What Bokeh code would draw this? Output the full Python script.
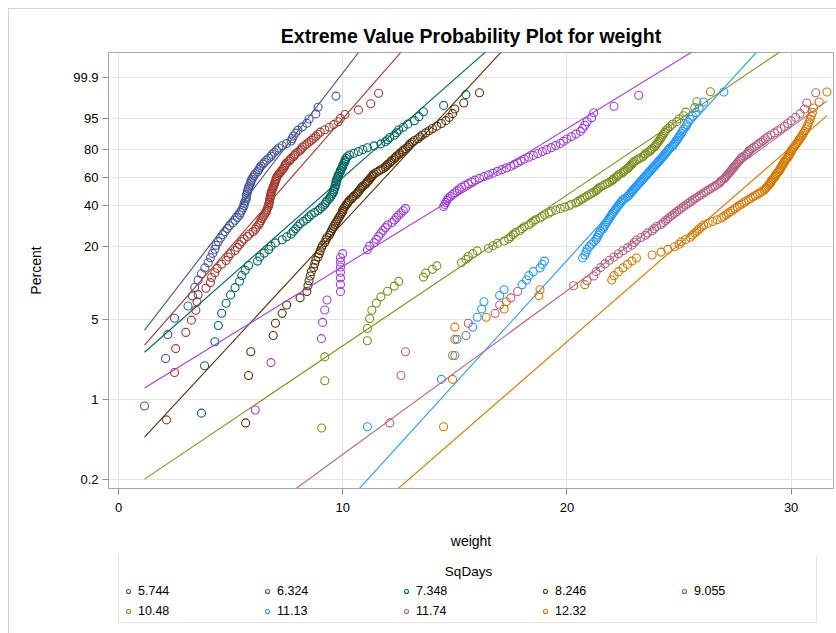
import numpy as np
from bokeh.plotting import figure
from bokeh.layouts import column
from bokeh.models import FixedTicker, Legend, LegendItem, Range1d, Label
from bokeh.embed import file_html
from bokeh.resources import INLINE

# ---------------- data ----------------
groups = ["5.744", "6.324", "7.348", "8.246", "9.055", "10.48", "11.13", "11.74", "12.32"]
colors = ["#445694", "#A23A2E", "#01665E", "#543005", "#9D3CDB",
          "#7F8E1F", "#2597FA", "#B26084", "#D17800"]

w_5744 = [1.16, 2.1, 2.2, 2.5, 3.1, 3.3, 3.4, 3.55, 3.7, 3.85, 4.0, 4.1, 4.2, 4.3, 4.35,
          4.45, 4.55, 4.65, 4.75, 4.85, 4.95, 5.1, 5.2, 5.3, 5.4, 5.45, 5.5, 5.55, 5.6, 5.6,
          5.65, 5.7, 5.7, 5.7, 5.75, 5.75, 5.8, 5.8, 5.85, 5.9, 5.9, 5.95, 6.0, 6.05, 6.1,
          6.2, 6.25, 6.3, 6.35, 6.45, 6.5, 6.6, 6.7, 6.8, 6.85, 6.95, 7.05, 7.15, 7.3, 7.5,
          7.7, 7.75, 7.8, 7.9, 8.0, 8.2, 8.4, 8.5, 8.8, 8.9, 9.7]
w_6324 = [2.14, 2.5, 2.55, 3.0, 3.25, 3.45, 3.5, 3.55, 3.9, 4.1, 4.15, 4.3, 4.4, 4.6, 4.8,
          4.9, 5.0, 5.2, 5.3, 5.4, 5.5, 5.6, 5.75, 5.85, 6.0, 6.1, 6.15, 6.25, 6.3, 6.35,
          6.4, 6.45, 6.5, 6.55, 6.6, 6.62, 6.65, 6.7, 6.7, 6.72, 6.74, 6.75, 6.76, 6.78, 6.8,
          6.8, 6.82, 6.85, 6.88, 6.9, 6.92, 6.95, 6.97, 7.0, 7.02, 7.04, 7.06, 7.1, 7.15, 7.2,
          7.25, 7.3, 7.35, 7.4, 7.42, 7.45, 7.5, 7.6, 7.65, 7.7, 7.8, 7.85, 7.9, 8.0, 8.1,
          8.15, 8.2, 8.3, 8.4, 8.5, 8.6, 8.7, 8.8, 8.9, 9.0, 9.2, 9.4, 9.6, 9.8, 9.9,
          10.1, 10.7, 11.25, 11.6]
w_7348 = [3.7, 3.84, 4.3, 4.45, 4.6, 4.8, 5.0, 5.2, 5.4, 5.5, 5.65, 5.8, 6.2, 6.3, 6.5,
          6.7, 6.8, 7.0, 7.3, 7.5, 7.7, 7.8, 7.9, 8.0, 8.1, 8.25, 8.4, 8.5, 8.6, 8.75,
          8.9, 9.0, 9.1, 9.2, 9.25, 9.3, 9.4, 9.45, 9.5, 9.55, 9.6, 9.6, 9.65, 9.65, 9.7,
          9.7, 9.7, 9.75, 9.75, 9.8, 9.8, 9.85, 9.9, 9.9, 9.95, 10.0, 10.0, 10.05, 10.1, 10.1,
          10.15, 10.2, 10.3, 10.5, 10.7, 10.9, 11.1, 11.4, 11.7, 11.9, 12.0, 12.1, 12.3, 12.4,
          12.5, 12.7, 12.9, 13.2, 13.4, 13.6, 14.5, 15.5]
w_8246 = [5.67, 5.8, 5.9, 6.9, 7.0, 7.3, 7.5, 8.1, 8.4, 8.45, 8.5, 8.55, 8.6, 8.7, 8.75,
          8.8, 8.9, 8.95, 9.0, 9.05, 9.1, 9.2, 9.25, 9.3, 9.4, 9.45, 9.5, 9.55, 9.6, 9.65,
          9.7, 9.75, 9.8, 9.85, 9.9, 9.95, 10.0, 10.0, 10.05, 10.1, 10.15, 10.2, 10.25, 10.3,
          10.4, 10.45, 10.5, 10.6, 10.65, 10.7, 10.75, 10.8, 10.85, 10.9, 11.0, 11.05, 11.1,
          11.15, 11.2, 11.25, 11.3, 11.35, 11.4, 11.5, 11.6, 11.7, 11.8, 11.9, 11.95, 12.0,
          12.1, 12.15, 12.2, 12.3, 12.35, 12.4, 12.5, 12.55, 12.65, 12.7, 12.8, 12.9, 12.95,
          13.0, 13.1, 13.2, 13.35, 13.45, 13.55, 13.7, 13.85, 14.0, 14.2, 14.4, 14.6, 14.75,
          14.9, 15.0, 15.4, 16.1]
w_9055 = [6.1, 6.8, 9.05, 9.1, 9.2, 9.3, 9.9, 9.9, 9.9, 9.9, 9.9, 9.9, 9.9, 10.0, 11.1,
          11.2, 11.4, 11.5, 11.6, 11.7, 11.8, 11.9, 12.0, 12.2, 12.3, 12.4, 12.5, 12.6, 12.7,
          12.8, 14.5, 14.55, 14.6, 14.65, 14.7, 14.8, 14.9, 15.0, 15.1, 15.2, 15.3, 15.45,
          15.6, 15.75, 15.9, 16.1, 16.3, 16.5, 16.7, 16.9, 17.1, 17.3, 17.5, 17.65, 17.8,
          17.95, 18.1, 18.3, 18.5, 18.7, 18.9, 19.1, 19.3, 19.5, 19.7, 19.85, 20.0, 20.2,
          20.4, 20.6, 20.7, 20.8, 20.9, 21.1, 21.2, 22.1, 23.2]
w_1048 = [9.06, 9.2, 9.2, 11.1, 11.1, 11.2, 11.3, 11.5, 11.7, 12.0, 12.3, 12.5, 13.6, 13.7,
          14.0, 14.2, 15.3, 15.5, 15.6, 15.8, 16.0, 16.5, 16.7, 16.9, 17.2, 17.4, 17.5, 17.6,
          17.7, 17.9, 18.0, 18.1, 18.3, 18.4, 18.5, 18.6, 18.8, 18.9, 19.0, 19.2, 19.3, 19.5,
          19.7, 19.9, 20.1, 20.2, 20.4, 20.5, 20.6, 20.7, 20.8, 20.9, 21.0, 21.1, 21.2, 21.3,
          21.35, 21.4, 21.5, 21.6, 21.7, 21.8, 21.9, 22.0, 22.05, 22.1, 22.2, 22.25, 22.3,
          22.4, 22.5, 22.55, 22.6, 22.7, 22.75, 22.8, 22.85, 22.9, 22.95, 23.0, 23.1, 23.2,
          23.3, 23.4, 23.45, 23.5, 23.6, 23.7, 23.75, 23.8, 23.9, 23.95, 24.0, 24.05, 24.1,
          24.15, 24.2, 24.25, 24.3, 24.35, 24.4, 24.5, 24.6, 24.7, 24.9, 25.0, 25.2, 25.3,
          25.7, 25.8, 26.4]
w_1113 = [11.1, 14.4, 15.0, 15.1, 15.8, 16.0, 16.2, 16.3, 17.0, 17.2, 18.0, 18.2, 18.3,
          18.5, 18.8, 18.9, 19.0, 20.7, 20.8, 20.85, 20.9, 21.0, 21.1, 21.2, 21.3, 21.35,
          21.4, 21.45, 21.5, 21.6, 21.65, 21.7, 21.75, 21.8, 21.85, 21.9, 21.95, 22.0, 22.05,
          22.1, 22.15, 22.2, 22.25, 22.3, 22.35, 22.4, 22.45, 22.5, 22.6, 22.7, 22.75, 22.8,
          22.85, 22.9, 22.95, 23.0, 23.05, 23.1, 23.15, 23.2, 23.25, 23.3, 23.35, 23.4, 23.45,
          23.5, 23.55, 23.6, 23.65, 23.7, 23.75, 23.8, 23.85, 23.9, 23.95, 24.0, 24.05, 24.1,
          24.15, 24.2, 24.25, 24.3, 24.35, 24.4, 24.45, 24.5, 24.55, 24.6, 24.7, 24.75, 24.8,
          24.85, 24.9, 24.95, 25.0, 25.05, 25.1, 25.15, 25.2, 25.3, 25.35, 25.4, 25.5, 25.6,
          25.75, 25.9, 26.1, 27.0]
w_1174 = [12.1, 12.6, 12.8, 15.5, 15.6, 16.8, 17.0, 17.5, 17.8, 20.3, 20.9, 21.2, 21.3,
          21.5, 21.7, 21.9, 22.1, 22.3, 22.5, 22.7, 22.9, 23.0, 23.1, 23.3, 23.5, 23.6, 23.8,
          23.9, 24.0, 24.2, 24.3, 24.4, 24.5, 24.6, 24.7, 24.8, 24.9, 25.0, 25.1, 25.2, 25.3,
          25.4, 25.5, 25.6, 25.7, 25.8, 25.9, 26.0, 26.1, 26.2, 26.3, 26.4, 26.5, 26.6, 26.7,
          26.8, 26.85, 26.9, 27.0, 27.05, 27.1, 27.15, 27.2, 27.25, 27.3, 27.35, 27.4, 27.45,
          27.5, 27.55, 27.6, 27.65, 27.7, 27.75, 27.8, 27.9, 28.0, 28.05, 28.1, 28.15, 28.25,
          28.35, 28.45, 28.55, 28.65, 28.75, 28.85, 28.95, 29.1, 29.25, 29.4, 29.55, 29.7,
          29.85, 30.0, 30.2, 30.4, 30.6, 30.7, 31.1]
w_1232 = [14.5, 14.9, 14.9, 15.0, 15.0, 16.4, 17.2, 17.3, 18.75, 18.8, 20.8, 22.0, 22.1,
          22.3, 22.5, 22.7, 22.9, 23.1, 23.8, 24.2, 24.5, 24.8, 25.0, 25.1, 25.3, 25.5, 25.6,
          25.7, 25.8, 25.9, 26.0, 26.1, 26.3, 26.5, 26.7, 26.9, 27.0, 27.1, 27.2, 27.3, 27.4,
          27.5, 27.6, 27.7, 27.8, 27.9, 28.0, 28.1, 28.2, 28.3, 28.4, 28.5, 28.6, 28.7, 28.8,
          28.85, 28.9, 28.95, 29.0, 29.05, 29.1, 29.1, 29.15, 29.2, 29.25, 29.3, 29.3, 29.35,
          29.4, 29.45, 29.5, 29.5, 29.55, 29.6, 29.6, 29.65, 29.7, 29.7, 29.75, 29.8, 29.85,
          29.9, 29.9, 29.95, 30.0, 30.0, 30.05, 30.1, 30.15, 30.2, 30.25, 30.3, 30.35, 30.4,
          30.45, 30.5, 30.55, 30.6, 30.65, 30.7, 30.75, 30.8, 30.85, 30.9, 30.95, 31.0,
          31.25, 31.6]
weights = [w_5744, w_6324, w_7348, w_8246, w_9055, w_1048, w_1113, w_1174, w_1232]

# fitted extreme-value (minimum) parameters
ev_location = [6.57, 7.89, 10.25, 12.08, 16.80, 21.48, 23.56, 27.21, 28.67]
ev_scale = [1.695, 1.925, 2.497, 2.037, 3.581, 3.27, 2.001, 3.012, 2.528]

pct_ticks = [0.2, 1, 5, 20, 40, 60, 80, 95, 99.9]
x_ticks = [0, 10, 20, 30]


def ev_z(p):
    p = np.asarray(p, dtype=float)
    return np.log(-np.log(1.0 - p))


FONT = "Liberation Sans"
EDGE = "#d2d2d2"

# ---------------- main plot ----------------
p = figure(width=836, height=556, output_backend="svg", toolbar_location=None,
           x_range=Range1d(-0.446, 31.89), y_range=Range1d(-6.405, 2.44),
           min_border_left=108, min_border_right=3, min_border_top=52,
           min_border_bottom=68)
p.outline_line_color = "#a8a8a8"
p.background_fill_color = "white"
p.border_fill_color = None
p.styles = {
    "background-color": "white",
    "background-image": f"linear-gradient({EDGE},{EDGE}), linear-gradient({EDGE},{EDGE})",
    "background-size": "828px 1px, 1px 548px",
    "background-position": "8px 8px, 8px 8px",
    "background-repeat": "no-repeat",
}

p.title.text = "Extreme Value Probability Plot for weight"
p.title.align = "center"
p.title.text_font = FONT
p.title.text_font_size = "19.5px"
p.title.text_font_style = "bold"
p.title.text_color = "#000000"
p.title.standoff = 11

y_tick_vals = [float(v) for v in ev_z(np.array(pct_ticks) / 100.0)]
p.yaxis.ticker = FixedTicker(ticks=y_tick_vals)
p.yaxis.major_label_overrides = {v: str(t) for v, t in zip(y_tick_vals, pct_ticks)}
p.xaxis.ticker = FixedTicker(ticks=x_ticks)
p.xgrid.ticker = FixedTicker(ticks=x_ticks)
p.ygrid.ticker = FixedTicker(ticks=y_tick_vals)
for g in (p.xgrid, p.ygrid):
    g.grid_line_color = "#e4e4e4"
    g.grid_line_width = 1

p.xaxis.axis_label = "weight"
p.yaxis.axis_label = "Percent"
for ax in (p.xaxis, p.yaxis):
    ax.axis_label_text_font = FONT
    ax.axis_label_text_font_size = "14px"
    ax.axis_label_text_font_style = "normal"
    ax.axis_label_text_color = "#000000"
    ax.major_label_text_font = FONT
    ax.major_label_text_font_size = "13px"
    ax.major_label_text_color = "#000000"
    ax.axis_line_color = "#a8a8a8"
    ax.major_tick_line_color = "#8c8c8c"
    ax.major_tick_out = 6
    ax.major_tick_in = 0
    ax.minor_tick_line_color = None
p.xaxis.major_label_standoff = 8
p.xaxis.axis_label_standoff = 18
p.yaxis.major_label_standoff = 4
p.yaxis.axis_label_standoff = 26

x_all = [min(min(w) for w in weights), max(max(w) for w in weights)]
group_xy = []
for name, col, w, mu, sig in zip(groups, colors, weights, ev_location, ev_scale):
    ws = np.sort(np.array(w, dtype=float))
    n = len(ws)
    ranks = np.arange(1, n + 1)
    pp = (ranks - 0.375) / (n + 0.25)
    zz = ev_z(pp)
    group_xy.append((ws, zz))
    p.scatter(ws, zz, marker="circle", size=8, fill_color=None,
              line_color=col, line_width=1.1)
    lx = np.array(x_all)
    p.line(lx, (lx - mu) / sig, line_color=col, line_width=1.1)

# ---------------- legend strip (separate panel below the plot) ----------------
# its ranges lie outside the data, so only the legend is visible there
p2 = figure(width=836, height=77, output_backend="svg", toolbar_location=None,
            x_axis_type=None, y_axis_type=None, x_range=Range1d(-30, -29),
            y_range=Range1d(-30, -29), min_border=0)
p2.grid.visible = False
p2.outline_line_color = None
p2.background_fill_color = None
p2.border_fill_color = None
p2.styles = {
    "background-color": "white",
    "background-image": f"linear-gradient({EDGE},{EDGE})",
    "background-size": "1px 77px",
    "background-position": "8px 0px",
    "background-repeat": "no-repeat",
}

items = []
for name, col, (ws, zz) in zip(groups, colors, group_xy):
    r = p2.scatter(ws, zz, marker="circle", size=7, fill_color=None,
                   line_color=col, line_width=1.1)
    items.append(LegendItem(label=name, renderers=[r]))

legend = Legend(items=items, title=" ", orientation="horizontal", ncols=5)
legend.title_text_font = FONT
legend.title_text_font_size = "13px"
legend.title_standoff = 11
legend.label_text_font = FONT
legend.label_text_font_size = "12.5px"
legend.label_text_color = "#000000"
legend.glyph_width = 10
legend.glyph_height = 10
legend.label_height = 13
legend.label_standoff = 5
legend.label_width = 118
legend.spacing = 6
legend.padding = 4
legend.margin = 0
legend.border_line_color = "#c8c8c8"
legend.background_fill_color = None
legend.location = (10, 10)
p2.add_layout(legend, "center")

legend_title = Label(x=360, y=62, x_units="screen", y_units="screen", text="SqDays",
                     text_align="center", text_baseline="middle", text_font=FONT,
                     text_font_size="13.5px", text_color="#000000", level="overlay")
p2.add_layout(legend_title)

layout = column(p, p2, spacing=0)
open("out.html", "w").write(file_html(layout, INLINE))
